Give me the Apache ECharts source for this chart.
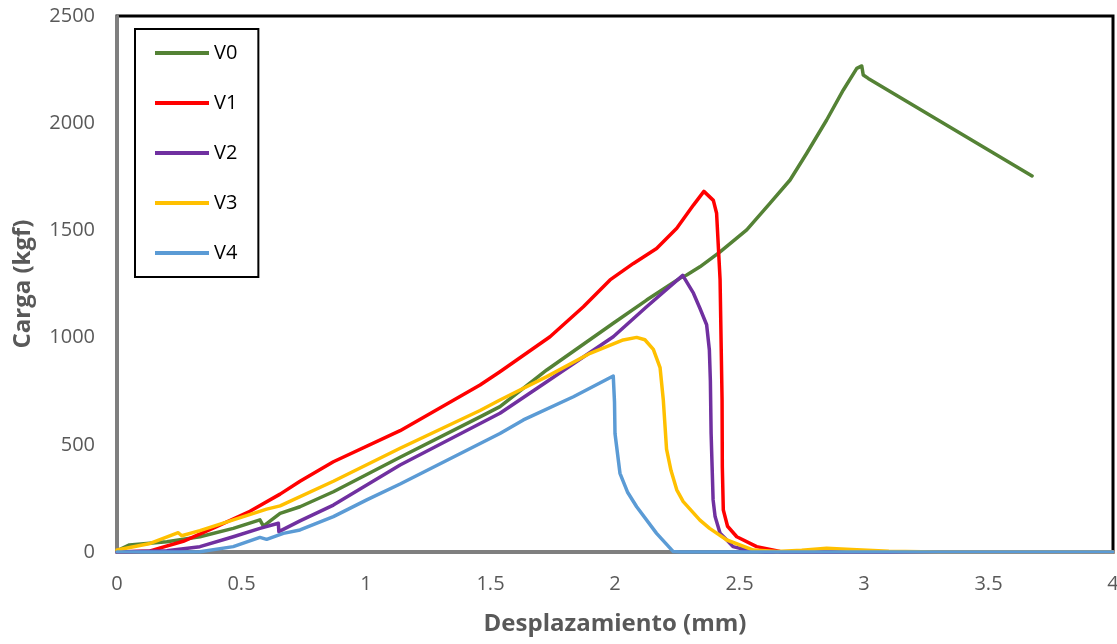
<!DOCTYPE html>
<html>
<head>
<meta charset="utf-8">
<title>Carga vs Desplazamiento</title>
<script src="https://cdn.jsdelivr.net/npm/echarts@6/dist/echarts.min.js"></script>
<style>
  html, body { margin: 0; padding: 0; background: #fff; }
  #chart { width: 1117px; height: 644px; }
</style>
</head>
<body>
<div id="chart"></div>
<script>
// Load–displacement curves: [displacement (mm), load (kgf)]
const seriesNames = ['V0', 'V1', 'V2', 'V3', 'V4'];

const v0 = [[0,5],[0.05,33],[0.2,48],[0.333,71],[0.467,110],[0.574,150],[0.581,154],[0.588,121],
  [0.655,180],[0.735,211],[0.869,281],[1.137,442],[1.458,630],[1.538,678],[1.726,849],[1.993,1067],
  [2.127,1175],[2.261,1277],[2.288,1292],[2.341,1330],[2.422,1400],[2.529,1502],[2.622,1626],
  [2.703,1735],[2.77,1860],[2.85,2015],[2.917,2155],[2.971,2256],[2.991,2267],[2.997,2225],
  [3.017,2209],[3.675,1754]];

const v1 = [[0,0],[0.133,5],[0.266,50],[0.4,118],[0.534,190],[0.655,270],[0.735,330],[0.869,421],
  [1.137,566],[1.458,779],[1.538,841],[1.739,1004],[1.873,1144],[1.98,1269],[2.074,1346],
  [2.167,1416],[2.248,1510],[2.315,1618],[2.357,1682],[2.395,1640],[2.408,1580],[2.422,1270],
  [2.43,709],[2.431,398],[2.435,196],[2.452,120],[2.489,71],[2.569,25],[2.663,2],[4,0]];

const v2 = [[0,0],[0.2,6],[0.333,25],[0.467,71],[0.574,110],[0.648,134],[0.65,95],[0.735,145],
  [0.869,219],[1.137,406],[1.538,647],[1.726,794],[1.993,1004],[2.127,1144],[2.272,1290],
  [2.315,1207],[2.341,1137],[2.368,1060],[2.379,942],[2.383,800],[2.386,553],[2.39,398],
  [2.394,243],[2.402,165],[2.422,87],[2.449,56],[2.474,25],[2.529,9],[2.6,0],[4,0]];

const v3 = [[0,9],[0.133,40],[0.246,90],[0.26,76],[0.333,100],[0.467,150],[0.601,200],[0.655,215],
  [0.869,330],[1.137,484],[1.458,660],[1.538,709],[1.726,818],[1.9,927],[2.033,989],[2.087,1001],
  [2.12,990],[2.154,945],[2.181,860],[2.194,709],[2.207,480],[2.225,380],[2.248,290],[2.274,235],
  [2.341,149],[2.38,110],[2.449,56],[2.556,9],[2.65,2],[2.75,8],[2.85,17],[2.95,12],[3.1,3],
  [3.3,0],[4,0]];

const v4 = [[0,0],[0.333,1],[0.467,25],[0.574,68],[0.601,59],[0.668,87],[0.735,103],[0.869,165],
  [1.003,243],[1.137,317],[1.538,553],[1.632,616],[1.833,724],[1.993,821],[1.998,700],[2.0,553],
  [2.02,367],[2.05,280],[2.087,211],[2.167,87],[2.234,2],[2.26,0],[4,0]];

const seriesData = [v0, v1, v2, v3, v4];
const seriesColors = ['#548235', '#FF0000', '#7030A0', '#FFC000', '#5B9BD5'];

const chart = echarts.init(document.getElementById('chart'), null, { renderer: 'canvas' });

const labelStyle = { color: '#595959', fontFamily: 'Open Sans', fontSize: 20 };
const plainNumber = v => String(v);

chart.setOption({
  animation: false,
  backgroundColor: '#fff',
  grid: {
    left: 117, right: 4, top: 16, bottom: 92,
    outerBoundsMode: 'none',
    containLabel: false,
    show: true, borderColor: '#000', borderWidth: 3, backgroundColor: 'transparent'
  },
  legend: {
    orient: 'vertical',
    left: 135, top: 29,
    padding: [14, 21, 14, 20],
    itemGap: 30,
    itemWidth: 54, itemHeight: 4,
    icon: 'rect',
    borderColor: '#000', borderWidth: 2,
    data: seriesNames,
    textStyle: { color: '#000', fontFamily: 'Open Sans', fontSize: 20, lineHeight: 20 }
  },
  xAxis: {
    type: 'value', min: 0, max: 4, interval: 0.5,
    name: 'Desplazamiento (mm)', nameLocation: 'middle', nameGap: 60,
    nameTextStyle: { color: '#595959', fontFamily: 'Open Sans', fontSize: 24, fontWeight: 'bold' },
    axisLine: { show: true, lineStyle: { color: '#7f7f7f', width: 3 } },
    axisTick: { show: false },
    splitLine: { show: false },
    axisLabel: Object.assign({ margin: 22, formatter: plainNumber }, labelStyle)
  },
  yAxis: {
    type: 'value', min: 0, max: 2500, interval: 500,
    name: 'Carga (kgf)', nameLocation: 'middle', nameGap: 82, nameRotate: 90,
    nameTextStyle: { color: '#595959', fontFamily: 'Open Sans', fontSize: 24, fontWeight: 'bold' },
    axisLine: { show: true, lineStyle: { color: '#7f7f7f', width: 3 } },
    axisTick: { show: false },
    splitLine: { show: false },
    axisLabel: Object.assign({ margin: 22, formatter: plainNumber }, labelStyle)
  },
  series: seriesNames.map((name, i) => ({
    name: name,
    type: 'line',
    data: seriesData[i],
    showSymbol: false,
    symbol: 'none',
    smooth: false,
    color: seriesColors[i],
    lineStyle: { width: 3.5, color: seriesColors[i], cap: 'round', join: 'round' },
    z: 2 + i
  }))
});
</script>
</body>
</html>
